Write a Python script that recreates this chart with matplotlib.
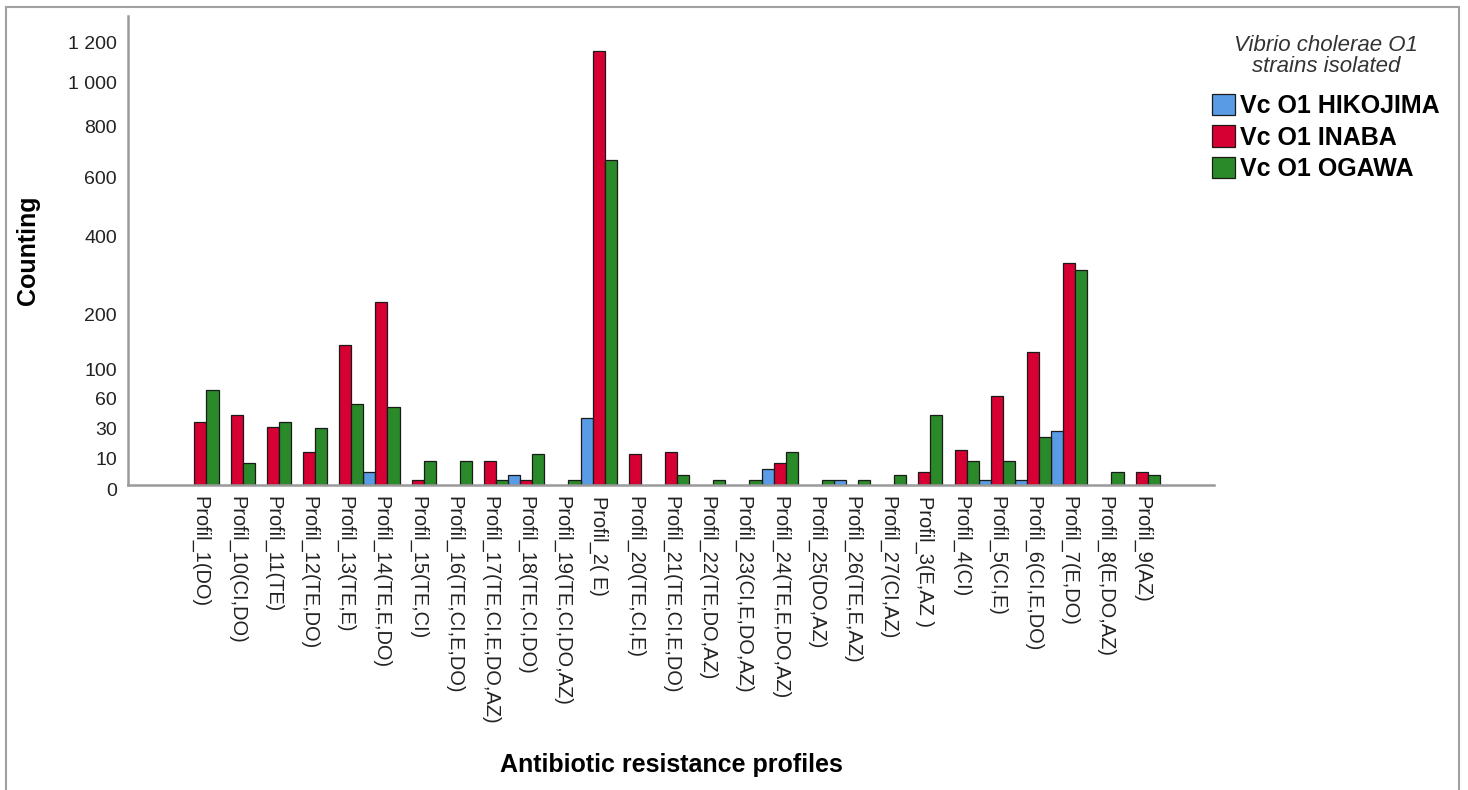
import numpy as np
import matplotlib
matplotlib.use('Agg')
import matplotlib.pyplot as plt
import matplotlib.transforms as mtransforms
from matplotlib import font_manager
from matplotlib.patches import Rectangle

# Antibiotic resistance profile counts per Vibrio cholerae O1 serotype
profiles = ['Profil_1(DO)', 'Profil_10(CI,DO)', 'Profil_11(TE)', 'Profil_12(TE,DO)',
            'Profil_13(TE,E)', 'Profil_14(TE,E,DO)', 'Profil_15(TE,CI)',
            'Profil_16(TE,CI,E,DO)', 'Profil_17(TE,CI,E,DO,AZ)', 'Profil_18(TE,CI,DO)',
            'Profil_19(TE,CI,DO,AZ)', 'Profil_2( E)', 'Profil_20(TE,CI,E)',
            'Profil_21(TE,CI,E,DO)', 'Profil_22(TE,DO,AZ)', 'Profil_23(CI,E,DO,AZ)',
            'Profil_24(TE,E,DO,AZ)', 'Profil_25(DO,AZ)', 'Profil_26(TE,E,AZ)',
            'Profil_27(CI,AZ)', 'Profil_3(E,AZ )', 'Profil_4(CI)', 'Profil_5(CI,E)',
            'Profil_6(CI,E,DO)', 'Profil_7(E,DO)', 'Profil_8(E,DO,AZ)', 'Profil_9(AZ)']

hikojima = [0, 0, 0, 0, 0, 3, 0, 0, 0, 2, 0, 36, 0, 0, 0, 0, 4, 0, 1, 0, 0, 0, 1, 1, 25, 0, 0]
inaba = [32, 38, 28, 11, 133, 218, 1, 0, 7, 1, 0, 1137, 10, 11, 0, 0, 6, 0, 0, 0, 3, 12, 58, 120, 313, 0, 3]
ogawa = [66, 6, 32, 27, 49, 46, 7, 7, 1, 10, 1, 650, 0, 2, 1, 1, 11, 1, 1, 2, 38, 7, 7, 20, 295, 3, 2]

series_names = ['Vc O1 HIKOJIMA', 'Vc O1 INABA', 'Vc O1 OGAWA']
series_colors = ['#5A9BE6', '#D60032', '#2A8A2A']

yticks = [0, 10, 30, 60, 100, 200, 400, 600, 800, 1000, 1200]
ytick_labels = ['0', '10', '30', '60', '100', '200', '400', '600', '800', '1 000', '1 200']

names = {f.name for f in font_manager.fontManager.ttflist}
base_font = 'Liberation Sans' if 'Liberation Sans' in names else 'DejaVu Sans'
plt.rcParams['font.family'] = [base_font, 'DejaVu Sans']

W, H = 1468, 790
fig = plt.figure(figsize=(W / 100, H / 100), dpi=100)
ax = fig.add_axes([128 / W, 1 - 485 / H, 1086 / W, 469 / H])

# square-root style count axis
ax.set_yscale('function', functions=(lambda v: np.sqrt(np.clip(v, 0, None) + 1),
                                     lambda f: np.square(f) - 1))

x = np.arange(len(profiles))
width = 1 / 3
handles = []
for k, (vals, name, col) in enumerate(zip([hikojima, inaba, ogawa], series_names, series_colors)):
    vals = np.array(vals, dtype=float)
    keep = vals > 0
    bars = ax.bar(x[keep] + (k - 1) * width, vals[keep], width=width, color=col,
                  edgecolor='#1a1a1a', linewidth=0.9, label=name, zorder=2)
    handles.append(bars)

ax.set_xlim(-2, len(profiles) + 1)
ax.set_ylim(0, 1320)
ax.set_yticks(yticks)
ax.set_yticklabels(ytick_labels)
ax.set_xticks(x)
ax.set_xticklabels(profiles, rotation=-90, va='top', ha='center')
ax.tick_params(axis='both', length=0, colors='#222222')
ax.tick_params(axis='y', pad=8, labelsize=14)
ax.tick_params(axis='x', pad=8, labelsize=14.4)

# value labels sit a little below their gridline position
shift = mtransforms.ScaledTranslation(0, -3 / 72, fig.dpi_scale_trans)
for lbl in ax.get_yticklabels():
    lbl.set_transform(lbl.get_transform() + shift)

for side in ['top', 'right']:
    ax.spines[side].set_visible(False)
for side in ['left', 'bottom']:
    ax.spines[side].set_color('#9a9a9a')
    ax.spines[side].set_linewidth(1.8)

ax.set_xlabel('Antibiotic resistance profiles', fontsize=18, fontweight='bold', va='center')
ax.xaxis.set_label_coords(0.5, (485 - 765) / 469)
ax.set_ylabel('Counting', fontsize=18, fontweight='bold', va='center')
ax.yaxis.set_label_coords((28 - 128) / 1086, 0.5)

leg = ax.legend(handles=handles, labels=series_names,
                title='Vibrio cholerae O1\nstrains isolated',
                loc='upper left', bbox_to_anchor=(1212 / W, 1 - 35 / H),
                bbox_transform=fig.transFigure, frameon=False,
                prop={'size': 18, 'weight': 'bold'},
                title_fontproperties={'size': 16, 'style': 'italic'},
                handlelength=0.93, handleheight=0.93, handletextpad=0.2,
                labelspacing=0.3, borderpad=0, borderaxespad=0)
leg.get_title().set_color('#333333')
leg.get_title().set_multialignment('center')
leg.get_title().set_linespacing(1.0)
leg._legend_box.sep = 12

# outer border
fig.add_artist(Rectangle((6 / W, -0.01), (1459 - 6) / W, 1 - 7 / H + 0.01,
                         transform=fig.transFigure, fill=False,
                         edgecolor='#a0a0a0', linewidth=1.5))

fig.savefig('out.png', dpi=100)
